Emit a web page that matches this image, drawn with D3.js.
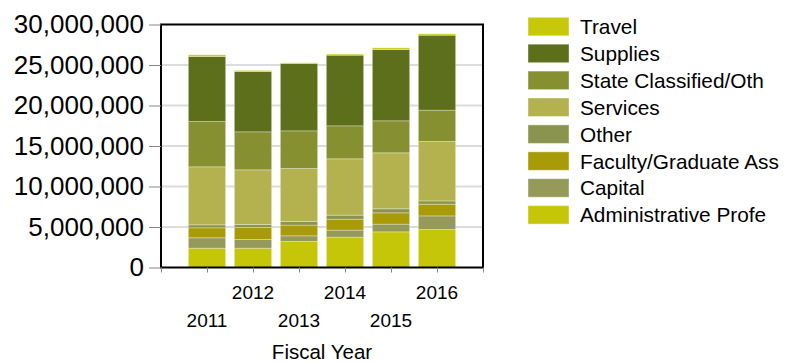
<!DOCTYPE html>
<html>
<head>
<meta charset="utf-8">
<script src="https://cdn.jsdelivr.net/npm/d3@7"></script>
<style>
  html, body { margin: 0; padding: 0; background: #fff; }
  svg { display: block; font-family: "Liberation Sans", Arial, sans-serif; }
</style>
</head>
<body>
<svg id="chart" width="785" height="363"></svg>
<script>
// Fiscal years on the x axis
const years = [2011, 2012, 2013, 2014, 2015, 2016];

// Expense categories, bottom of the stack first
const categories = [
  "Administrative Profe",
  "Capital",
  "Faculty/Graduate Ass",
  "Other",
  "Services",
  "State Classified/Oth",
  "Supplies",
  "Travel"
];

// Spending per category, one value per fiscal year
const adminProfe   = [2380000, 2380000, 3210000, 3740000, 4400000, 4690000];
const capital      = [1290000, 1080000,  700000,  870000,  950000, 1680000];
const facultyGrad  = [1230000, 1480000, 1320000, 1350000, 1400000, 1440000];
const other        = [ 370000,  370000,  450000,  500000,  500000,  410000];
const services     = [7160000, 6750000, 6540000, 6960000, 6910000, 7340000];
const stateClass   = [5590000, 4690000, 4650000, 4070000, 3950000, 3860000];
const supplies     = [8030000, 7450000, 8320000, 8720000, 8800000, 9260000];
const travel       = [ 210000,  120000,   80000,  130000,  210000,  170000];

const yTicks = [0, 5000000, 10000000, 15000000, 20000000, 25000000, 30000000];

const colors = {
  "Administrative Profe": "#c6c608",
  "Capital": "#969a58",
  "Faculty/Graduate Ass": "#a99a08",
  "Other": "#8b944e",
  "Services": "#b4b24e",
  "State Classified/Oth": "#869030",
  "Supplies": "#5e6f1b",
  "Travel": "#c8c80a"
};

const seriesValues = [adminProfe, capital, facultyGrad, other, services, stateClass, supplies, travel];

// Build rows for d3.stack
const rows = years.map((yr, i) => {
  const r = { year: yr };
  categories.forEach((c, k) => { r[c] = seriesValues[k][i]; });
  return r;
});

const svg = d3.select("#chart");
const plot = { left: 161, right: 483, top: 24.5, bottom: 267.5 };

const x = d3.scaleLinear().domain([2010, 2017]).range([plot.left, plot.right]);
const y = d3.scaleLinear().domain([0, 30000000]).range([plot.bottom, plot.top]);

const barW = (x(1) - x(0)) * 0.81;

// Horizontal grid lines
svg.append("g")
  .selectAll("line")
  .data(yTicks.filter(d => d > 0 && d < 30000000))
  .join("line")
  .attr("x1", plot.left).attr("x2", plot.right)
  .attr("y1", d => y(d)).attr("y2", d => y(d))
  .attr("stroke", "#dcdcdc").attr("stroke-width", 2);

// Stacked bars
const stacked = d3.stack().keys(categories)(rows);
svg.append("g")
  .selectAll("g")
  .data(stacked)
  .join("g")
  .attr("fill", d => colors[d.key])
  .selectAll("rect")
  .data(d => d)
  .join("rect")
  .attr("x", d => x(d.data.year) - barW / 2)
  .attr("width", barW)
  .attr("y", d => y(d[1]))
  .attr("height", d => y(d[0]) - y(d[1]))
  .attr("stroke", "rgba(255,255,255,0.3)")
  .attr("stroke-width", 1);

// Plot frame
svg.append("rect")
  .attr("x", plot.left).attr("y", plot.top)
  .attr("width", plot.right - plot.left).attr("height", plot.bottom - plot.top)
  .attr("fill", "none").attr("stroke", "#000").attr("stroke-width", 2);

// Y axis
const yAxis = d3.axisLeft(y)
  .tickValues(yTicks)
  .tickFormat(d3.format(","))
  .tickSize(12)
  .tickPadding(5);
const gy = svg.append("g").attr("transform", `translate(${plot.left},0)`).call(yAxis);
gy.select(".domain").remove();
gy.selectAll(".tick line").attr("stroke", "#888").attr("stroke-width", 1);
gy.selectAll(".tick text")
  .attr("font-size", 26)
  .attr("font-family", "Liberation Sans, Arial, sans-serif")
  .attr("fill", "#000");

// X axis: ticks at each year, labels staggered on two rows
const xAxis = d3.axisBottom(x)
  .tickValues(d3.range(2010, 2018))
  .tickFormat("")
  .tickSize(5);
const gx = svg.append("g").attr("transform", `translate(0,${plot.bottom})`).call(xAxis);
gx.select(".domain").remove();
gx.selectAll(".tick line").attr("stroke", "#888").attr("stroke-width", 1);

svg.append("g")
  .selectAll("text")
  .data(years)
  .join("text")
  .attr("x", d => x(d))
  .attr("y", d => d % 2 === 0 ? 299 : 327)
  .attr("text-anchor", "middle")
  .attr("font-size", 19)
  .attr("fill", "#000")
  .text(d => d);

svg.append("text")
  .attr("x", (plot.left + plot.right) / 2)
  .attr("y", 358.5)
  .attr("text-anchor", "middle")
  .attr("font-size", 20.5)
  .attr("fill", "#000")
  .text("Fiscal Year");

// Legend, top of stack first
const legendItems = categories.slice().reverse();
const lg = svg.append("g");
const rowH = 26.9;
const lgItem = lg.selectAll("g")
  .data(legendItems)
  .join("g")
  .attr("transform", (d, i) => `translate(528,${17.3 + i * rowH})`);
lgItem.append("rect")
  .attr("width", 41).attr("height", 18.5)
  .attr("fill", d => colors[d])
  .attr("stroke", "rgba(255,255,255,0.4)").attr("stroke-width", 1);
lgItem.append("text")
  .attr("x", 52).attr("y", 9.5)
  .attr("dy", "0.35em")
  .attr("font-size", 20.8)
  .attr("fill", "#000")
  .text(d => d);
</script>
</body>
</html>
